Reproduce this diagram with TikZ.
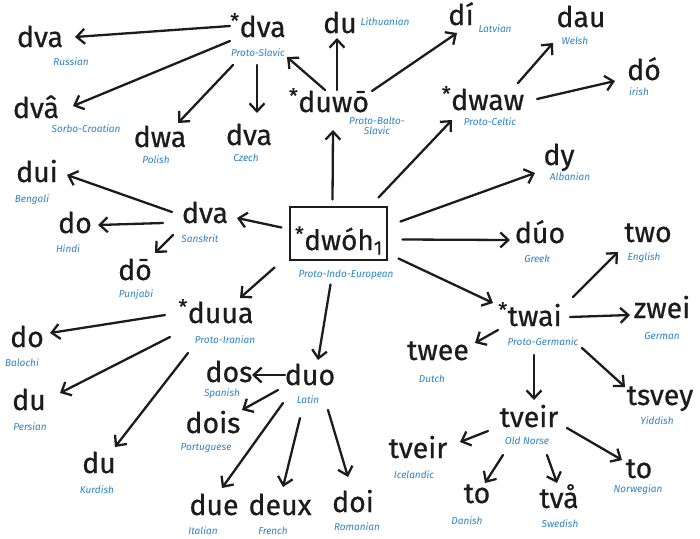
\documentclass[tikz,border=0pt]{standalone}
\usepackage{fontspec}
\setmainfont{Fira Sans}
\newfontfamily\wordfont[FakeBold=0.6]{Fira Sans}
\usetikzlibrary{arrows.meta,calc}
\definecolor{labblue}{RGB}{45,132,200}
\definecolor{ink}{RGB}{28,28,28}
\tikzset{
  w/.style={font=\wordfont\fontsize{28.5}{30}\selectfont, text=ink, inner sep=0pt, anchor=base},
  lab/.style={font=\itshape\fontsize{10}{10.5}\selectfont, text=labblue, inner sep=0.5pt, align=center},
  arr/.style={draw=ink, line width=2.3pt, line cap=round, -{Straight Barb[length=8pt,width=15pt,line width=2.3pt]}}
}
\newcommand{\pstar}{\textsuperscript{*}}
\begin{document}
\begin{tikzpicture}[x=1pt,y=-1pt]
\useasboundingbox[fill=white] (0,0) rectangle (700,538);
% PIE
\node[draw=ink, line width=2.3pt, minimum width=97pt, minimum height=53pt, inner sep=0pt] (pie) at (338.5,233.5) {};
\node[w, font=\wordfont\fontsize{28}{30}\selectfont] (pietext) at (339,250) {\pstar dwóh\textsubscript{1}};
\node[lab] (lpie) at (346,275) {Proto-Indo-European};
% Balto-Slavic
\node[w] (pbs) at (329,112) {\pstar duwō};
\node[lab] (lpbs) at (377,126) {Proto-Balto-\\Slavic};
\node[w] (ps) at (258,37) {\pstar dva};
\node[lab] (lps) at (258,53) {Proto-Slavic};
\node[w] (rus) at (40,47) {dva};
\node[lab] (lrus) at (71,62) {Russian};
\node[w] (sc) at (36,118) {dvâ};
\node[lab] (lsc) at (86,129) {Sorbo-Croatian};
\node[w] (pol) at (160,147) {dwa};
\node[lab] (lpol) at (156,160) {Polish};
\node[w] (cze) at (249,145) {dva};
\node[lab] (lcze) at (246,158) {Czech};
\node[w] (lit) at (340,33) {du};
\node[lab] (llit) at (385,22) {Lithuanian};
\node[w] (lat) at (461,25) {dí};
\node[lab] (llat) at (495,29) {Latvian};
% Celtic
\node[w] (pc) at (483,110) {\pstar dwaw};
\node[lab] (lpc) at (490,122) {Proto-Celtic};
\node[w] (wel) at (581,27) {dau};
\node[lab] (lwel) at (575,41) {Welsh};
\node[w] (iri) at (644,80) {dó};
\node[lab] (liri) at (639,92) {irish};
% Albanian, Greek
\node[w] (alb) at (559,165) {dy};
\node[lab] (lalb) at (570,177) {Albanian};
\node[w] (gre) at (540,243) {dúo};
\node[lab] (lgre) at (537,259) {Greek};
% Indic
\node[w] (skt) at (205,223) {dva};
\node[lab] (lskt) at (200,239) {Sanskrit};
\node[w] (ben) at (37,182) {dui};
\node[lab] (lben) at (32,200) {Bengali};
\node[w] (hin) at (75,233) {do};
\node[lab] (lhin) at (68,249) {Hindi};
\node[w] (pun) at (135,280) {dō};
\node[lab] (lpun) at (136,295) {Punjabi};
% Iranian
\node[w] (pir) at (216,323) {\pstar duua};
\node[lab] (lpir) at (225,340) {Proto-Iranian};
\node[w] (bal) at (27,347) {do};
\node[lab] (lbal) at (22,363) {Balochi};
\node[w] (per) at (29,410) {du};
\node[lab] (lper) at (30,427) {Persian};
\node[w] (kur) at (99,473) {du};
\node[lab] (lkur) at (97,490) {Kurdish};
% Latin
\node[w] (latin) at (310,385) {duo};
\node[lab] (llatin) at (308,400) {Latin};
\node[w] (spa) at (229,382) {dos};
\node[lab] (lspa) at (222,394) {Spanish};
\node[w] (por) at (213,433) {dois};
\node[lab] (lpor) at (206,448) {Portuguese};
\node[w] (ita) at (214,515) {due};
\node[lab] (lita) at (203,531) {Italian};
\node[w] (fre) at (280,515) {deux};
\node[lab] (lfre) at (273,531) {French};
\node[w] (rom) at (353,512) {doi};
\node[lab] (lrom) at (357,527) {Romanian};
% Germanic
\node[w] (pg) at (530,326) {\pstar twai};
\node[lab] (lpg) at (543,342) {Proto-Germanic};
\node[w] (eng) at (648,242) {two};
\node[lab] (leng) at (644,258) {English};
\node[w] (ger) at (662,318) {zwei};
\node[lab] (lger) at (662,336) {German};
\node[w] (dut) at (438,360) {twee};
\node[lab] (ldut) at (432,379) {Dutch};
\node[w] (yid) at (660,405) {tsvey};
\node[lab] (lyid) at (657,421) {Yiddish};
\node[w] (on) at (529,427) {tveir};
\node[lab] (lon) at (527,441) {Old Norse};
\node[w] (ice) at (418,458) {tveir};
\node[lab] (lice) at (414,475) {Icelandic};
\node[w] (dan) at (477,503) {to};
\node[lab] (ldan) at (467,521) {Danish};
\node[w] (swe) at (559,508) {två};
\node[lab] (lswe) at (560,524) {Swedish};
\node[w] (nor) at (639,478) {to};
\node[lab] (lnor) at (638,490) {Norwegian};
% arrows
\draw[arr] ($(ps.base)+(-28,-11)$) -- ($(rus.base)+(35,-10)$);
\draw[arr] ($(ps.base)+(-28,4)$) -- ($(sc.base)+(37,-12)$);
\draw[arr] ($(ps.base)+(-25,28)$) -- ($(pol.base)+(18,-24)$);
\draw[arr] ($(ps.base)+(-1,28)$) -- ($(cze.base)+(8,-32)$);
\draw[arr] ($(pbs.base)+(-4,-22)$) -- ($(ps.base)+(29,20)$);
\draw[arr] ($(pbs.base)+(8,-22)$) -- ($(lit.base)+(-3,5)$);
\draw[arr] ($(pbs.base)+(43,-21)$) -- ($(lat.base)+(-4,8)$);
\draw[arr] ($(pie.center)+(-6,-34)$) -- ($(pbs.base)+(4,18)$);
\draw[arr] ($(pie.center)+(40,-36)$) -- ($(pc.base)+(-31,10)$);
\draw[arr] ($(pc.base)+(35,-27)$) -- ($(wel.base)+(-28,16)$);
\draw[arr] ($(pc.base)+(54,-11)$) -- ($(iri.base)+(-29,1)$);
\draw[arr] ($(pie.center)+(62,-12)$) -- ($(alb.base)+(-24,8)$);
\draw[arr] ($(pie.center)+(64,6)$) -- ($(gre.base)+(-30,-3)$);
\draw[arr] ($(pie.center)+(60,25)$) -- ($(pg.base)+(-37,-23)$);
\draw[arr] ($(pie.center)+(-57,-6)$) -- ($(skt.base)+(32,-5)$);
\draw[arr] ($(skt.base)+(-33,-11)$) -- ($(ben.base)+(30,-7)$);
\draw[arr] ($(skt.base)+(-42,0)$) -- ($(hin.base)+(23,-8)$);
\draw[arr] ($(skt.base)+(-32,12)$) -- ($(pun.base)+(20,-27)$);
\draw[arr] ($(pie.center)+(-64,34)$) -- ($(pir.base)+(24,-25)$);
\draw[arr] ($(pir.base)+(-51,-8)$) -- ($(bal.base)+(23,-14)$);
\draw[arr] ($(pir.base)+(-46,14)$) -- ($(per.base)+(31,-17)$);
\draw[arr] ($(pir.base)+(-28,30)$) -- ($(kur.base)+(16,-26)$);
\draw[arr] ($(pie.center)+(-8,51)$) -- ($(latin.base)+(8,-25)$);
\draw[arr] ($(latin.base)+(-25,-10)$) -- ($(spa.base)+(23,-7)$);
\draw[arr] ($(latin.base)+(-32,5)$) -- ($(por.base)+(29,-23)$);
\draw[arr] ($(latin.base)+(-27,18)$) -- ($(ita.base)+(8,-27)$);
\draw[arr] ($(latin.base)+(-10,33)$) -- ($(fre.base)+(3,-28)$);
\draw[arr] ($(latin.base)+(18,25)$) -- ($(rom.base)+(-5,-35)$);
\draw[arr] ($(pg.base)+(43,-29)$) -- ($(eng.base)+(-30,10)$);
\draw[arr] ($(pg.base)+(40,-9)$) -- ($(ger.base)+(-32,-3)$);
\draw[arr] ($(pg.base)+(-32,4)$) -- ($(dut.base)+(37,-17)$);
\draw[arr] ($(pg.base)+(52,22)$) -- ($(yid.base)+(-35,-18)$);
\draw[arr] ($(pg.base)+(4,29)$) -- ($(on.base)+(5,-27)$);
\draw[arr] ($(on.base)+(-41,4)$) -- ($(ice.base)+(42,-16)$);
\draw[arr] ($(on.base)+(-26,28)$) -- ($(dan.base)+(8,-20)$);
\draw[arr] ($(on.base)+(18,28)$) -- ($(swe.base)+(-2,-25)$);
\draw[arr] ($(on.base)+(38,1)$) -- ($(nor.base)+(-17,-18)$);
\end{tikzpicture}
\end{document}
